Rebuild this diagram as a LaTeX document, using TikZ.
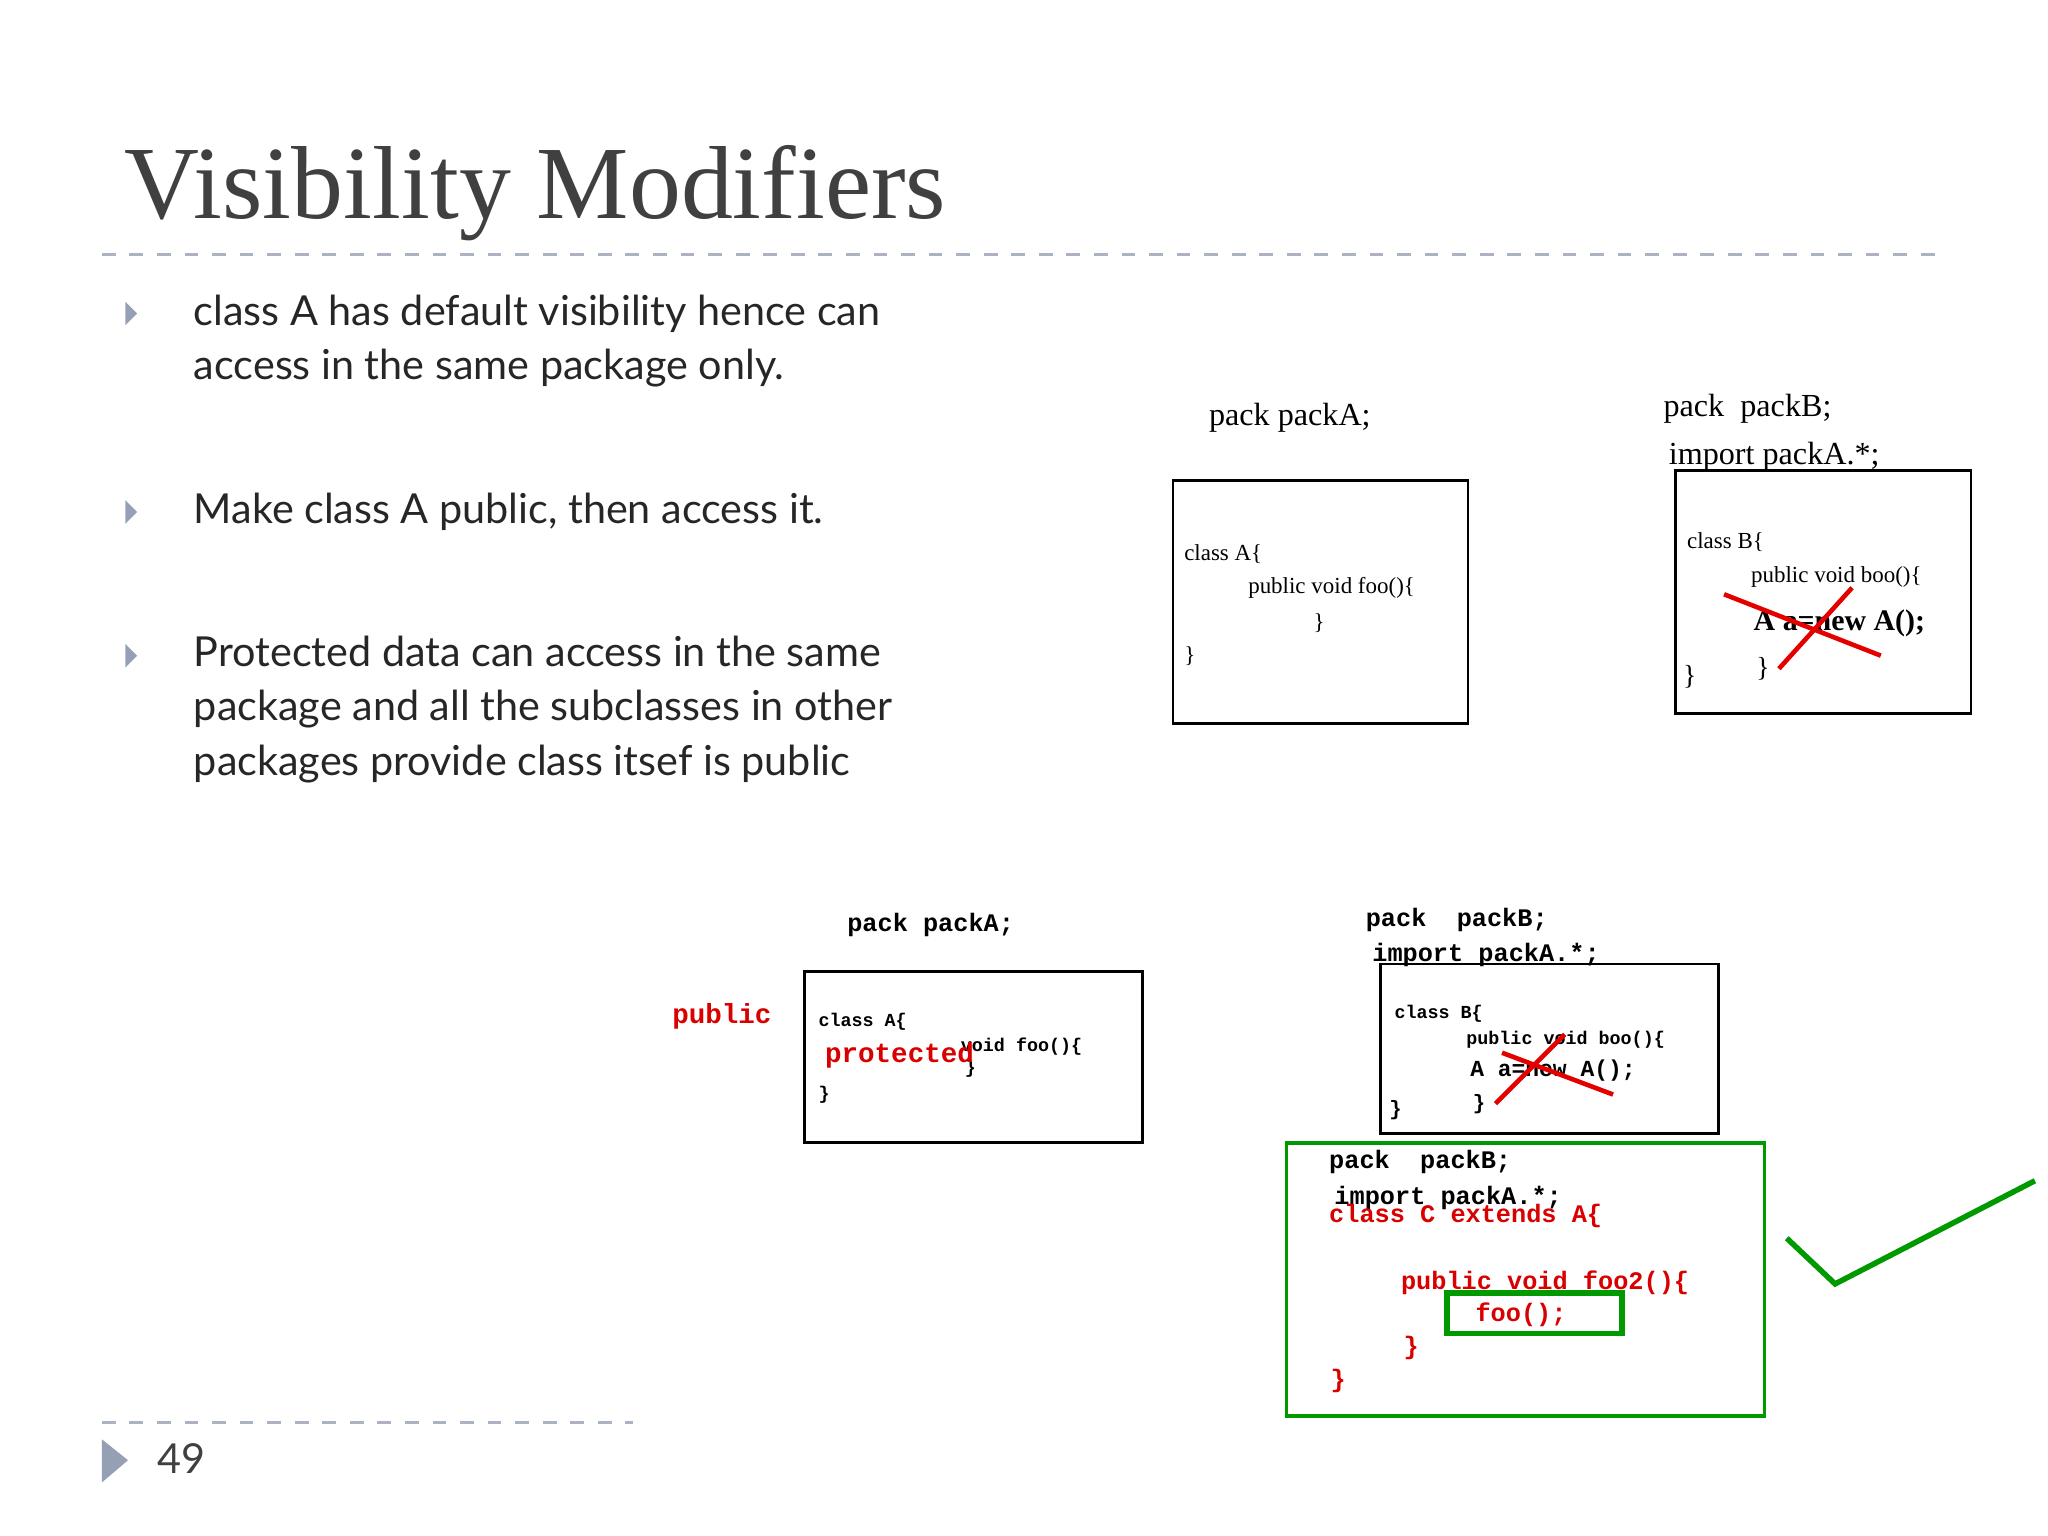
\documentclass[tikz,border=0pt]{standalone}
\usepackage{fontspec}
\setmainfont{Lato}
\newfontfamily\titlefont{Liberation Serif}
\newfontfamily\codefont{Liberation Mono}
\newfontfamily\narrowcode{Liberation Serif}
\definecolor{slate}{RGB}{150,160,180}
\begin{document}
\begin{tikzpicture}[x=0.01cm,y=-0.01cm,
  bul/.style={fill=slate,draw=none},
  btxt/.style={anchor=west,font=\fontsize{9pt}{11.9pt}\selectfont,align=left,text=black!85},
  box/.style={draw=black,line width=0.6pt},
  code/.style={anchor=west,inner sep=0pt,font=\codefont\bfseries\fontsize{5pt}{6pt}\selectfont},
  ncode/.style={anchor=west,inner sep=0pt,font=\codefont\fontsize{4.5pt}{5pt}\selectfont},
  bcode/.style={anchor=west,inner sep=0pt,font=\codefont\bfseries\fontsize{5.5pt}{6pt}\selectfont},
  redc/.style={text=red!85!black},
  cross/.style={draw=red!90!black,line width=1pt},
  gbox/.style={draw=green!60!black,line width=0.8pt}]
\path[use as bounding box] (0,0) rectangle (1568,1176);
\node[anchor=west,inner sep=0pt,font=\titlefont\fontsize{22.6pt}{26pt}\selectfont,text=black!75] (title) at (95,148) {Visibility Modifiers};
\draw[dashed,draw=slate!80,line width=0.7pt] (78,195) -- (1490,195);
\foreach \y in {240,392,502}{\fill[bul] (96,\y-9) -- (105,\y) -- (96,\y+9) -- cycle;}
\node[btxt] (b1) at (136,261) {class A has default visibility hence can\\access in the same package only.};
\node[btxt] (b2) at (136,392) {Make class A public, then access it.};
\node[btxt] (b3) at (136,543) {Protected data can access in the same\\package and all the subclasses in other\\packages provide class itsef is public};
% top left
\node[code,font=\narrowcode\fontsize{7pt}{8pt}\selectfont] (p1) at (925,320) {pack packA;};
\draw[box] (898,368) rectangle (1124,554);
\node[ncode,font=\narrowcode\fontsize{5pt}{6pt}\selectfont] at (906,424) {class A\{};
\node[ncode,font=\narrowcode\fontsize{5pt}{6pt}\selectfont] at (955,450) {public void foo()\{};
\node[ncode,font=\narrowcode\fontsize{5pt}{6pt}\selectfont] at (1005,477) {\}};
\node[ncode,font=\narrowcode\fontsize{5pt}{6pt}\selectfont] at (906,502) {\}};
% top right
\node[code,font=\narrowcode\fontsize{7pt}{8pt}\selectfont] (p2) at (1273,313) {pack\ \ packB;};
\node[code,font=\narrowcode\fontsize{7pt}{8pt}\selectfont] at (1277,350) {import packA.*;};
\draw[box] (1283,360) rectangle (1509,546);
\node[ncode,font=\narrowcode\fontsize{5pt}{6pt}\selectfont] at (1291,415) {class B\{};
\node[ncode,font=\narrowcode\fontsize{5pt}{6pt}\selectfont] at (1340,442) {public void boo()\{};
\node[code,font=\narrowcode\bfseries\fontsize{6.5pt}{7pt}\selectfont] at (1342,477) {A a=new A();};
\node[ncode,font=\narrowcode\fontsize{6pt}{6pt}\selectfont] at (1288,518) {\}};
\node[ncode,font=\narrowcode\fontsize{6pt}{6pt}\selectfont] at (1344,512) {\}};
\draw[cross] (1362,512) -- (1418,450);
\draw[cross] (1320,455) -- (1440,502);
% bottom left
\node[bcode] (p3) at (648,708) {pack packA;};
\node[bcode,redc,font=\codefont\bfseries\fontsize{6pt}{7pt}\selectfont] at (514,778) {public};
\draw[box] (616,744) rectangle (875,875);
\node[ncode,font=\codefont\bfseries\fontsize{4pt}{5pt}\selectfont] at (626,782) {class A\{};
\node[ncode,font=\codefont\bfseries\fontsize{4pt}{5pt}\selectfont] at (735,801) {void foo()\{};
\node[ncode,font=\codefont\bfseries\fontsize{4pt}{5pt}\selectfont] at (738,818) {\}};
\node[bcode,redc,font=\codefont\bfseries\fontsize{6pt}{7pt}\selectfont] at (631,808) {protected};
\node[ncode,font=\codefont\bfseries\fontsize{4pt}{5pt}\selectfont] at (626,838) {\}};
% bottom right
\node[bcode] (p4) at (1045,704) {pack\ \ packB;};
\node[bcode] at (1050,731) {import packA.*;};
\draw[box] (1057,738) rectangle (1316,868);
\node[ncode,font=\codefont\bfseries\fontsize{4pt}{5pt}\selectfont] at (1067,776) {class B\{};
\node[ncode,font=\codefont\bfseries\fontsize{4pt}{5pt}\selectfont] at (1122,796) {public void boo()\{};
\node[bcode,font=\codefont\bfseries\fontsize{5pt}{6pt}\selectfont] at (1125,820) {A a=new A();};
\node[ncode,font=\codefont\bfseries\fontsize{4.5pt}{5pt}\selectfont] at (1063,850) {\}};
\node[ncode,font=\codefont\bfseries\fontsize{4.5pt}{5pt}\selectfont] at (1127,845) {\}};
\draw[cross] (1145,845) -- (1198,792);
\draw[cross] (1150,806) -- (1235,838);
% green
\draw[gbox] (985,875) rectangle (1351,1084);
\node[bcode] (p5) at (1017,890) {pack\ \ packB;};
\node[bcode] at (1021,917) {import packA.*;};
\node[bcode,redc] at (1017,931) {class C extends A\{};
\node[bcode,redc] at (1072,982) {public void foo2()\{};
\node[bcode,redc] at (1129,1007) {foo();};
\node[bcode,redc] at (1074,1032) {\}};
\node[bcode,redc] at (1018,1057) {\}};
\draw[gbox,line width=1.2pt] (1108,990) rectangle (1242,1021);
\draw[draw=green!60!black,line width=1.2pt] (1368,948) -- (1405,983) -- (1558,904);
% footer
\draw[dashed,draw=slate!80,line width=0.7pt] (78,1089) -- (485,1089);
\fill[bul] (78,1102) -- (98,1118) -- (78,1135) -- cycle;
\node[anchor=west,inner sep=0pt,font=\fontsize{9pt}{10pt}\selectfont,text=black!75] (pg) at (120,1117) {49};
\end{tikzpicture}
\end{document}
